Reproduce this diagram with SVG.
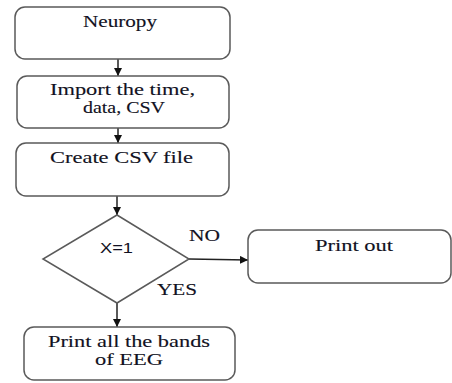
<svg xmlns="http://www.w3.org/2000/svg" width="452" height="383" viewBox="0 0 452 383">
<style>
.box{fill:#fff;stroke:#5a5a5a;stroke-width:1.5}
.t{font-family:'Liberation Serif','Times New Roman',serif;font-size:16px;fill:#111122;stroke:#111122;stroke-width:0.12}
.s{font-family:'Liberation Sans',Arial,sans-serif;font-size:14px;fill:#111122}
.c{stroke:#222;stroke-width:1.5;fill:none}
</style>
<defs>
<marker id="ah" viewBox="0 0 10 10" refX="10" refY="5" markerWidth="8" markerHeight="8" markerUnits="userSpaceOnUse" orient="auto"><path d="M0,0L10,5L0,10z" fill="#111"/></marker>
</defs>
<rect width="452" height="383" fill="#fff"/>
<g id="connectors">
<line class="c" x1="118" y1="59" x2="118" y2="76" marker-end="url(#ah)"/>
<line class="c" x1="118" y1="128" x2="118" y2="143" marker-end="url(#ah)"/>
<line class="c" x1="117" y1="196" x2="117" y2="215" marker-end="url(#ah)"/>
<line class="c" x1="189" y1="259" x2="248" y2="260" marker-end="url(#ah)"/>
<line class="c" x1="117" y1="303" x2="117" y2="327" marker-end="url(#ah)"/>
</g>
<g id="n1"><rect class="box" x="15" y="7" width="215" height="52" rx="10"/><text class="t" x="83" y="27" textLength="74" lengthAdjust="spacingAndGlyphs">Neuropy</text></g>
<g id="n2"><rect class="box" x="17" y="76" width="212" height="52" rx="10"/><text class="t" x="50" y="95" textLength="145" lengthAdjust="spacingAndGlyphs">Import the time,</text><text class="t" x="83" y="113" textLength="82" lengthAdjust="spacingAndGlyphs">data, CSV</text></g>
<g id="n3"><rect class="box" x="16" y="143" width="213" height="53" rx="10"/><text class="t" x="50" y="163" textLength="143" lengthAdjust="spacingAndGlyphs">Create CSV file</text></g>
<g id="n4"><polygon class="box" points="117,215 189,259 117,303 43,259"/><text class="s" x="100" y="253" textLength="33" lengthAdjust="spacingAndGlyphs">X=1</text></g>
<g id="n5"><rect class="box" x="248" y="230" width="203" height="53" rx="10"/><text class="t" x="315" y="251" textLength="78" lengthAdjust="spacingAndGlyphs">Print out</text></g>
<g id="n6"><rect class="box" x="24" y="327" width="211" height="53" rx="10"/><text class="t" x="48" y="347" textLength="162" lengthAdjust="spacingAndGlyphs">Print all the bands</text><text class="t" x="95" y="365" textLength="68" lengthAdjust="spacingAndGlyphs">of EEG</text></g>
<g id="labels">
<text class="t" x="189" y="241" textLength="31" lengthAdjust="spacingAndGlyphs">NO</text>
<text class="t" x="157" y="295" textLength="40" lengthAdjust="spacingAndGlyphs">YES</text>
</g>
</svg>
